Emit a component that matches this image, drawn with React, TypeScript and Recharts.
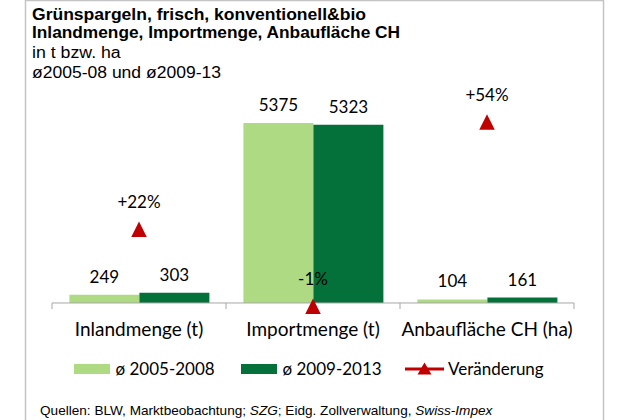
import React from 'react'
import { ComposedChart, Bar, Line, XAxis, YAxis, ReferenceLine, LabelList, Legend } from 'recharts'

// values
const categories = ['Inlandmenge (t)', 'Importmenge (t)', 'Anbaufläche CH (ha)']
const avg2005to2008 = [249, 5375, 104]
const avg2009to2013 = [303, 5323, 161]
const changePct = [22, -1, 54]
const seriesNames = ['ø 2005-2008', 'ø 2009-2013', 'Veränderung']

const titleLines = [
  'Grünspargeln, frisch, konventionell&bio',
  'Inlandmenge, Importmenge, Anbaufläche CH',
  'in t bzw. ha',
  'ø2005-08 und ø2009-13',
]

const data = categories.map((name, i) => ({
  name,
  early: avg2005to2008[i],
  late: avg2009to2013[i],
  change: changePct[i],
}))

const LIGHT = '#AEDA84'
const DARK = '#04703A'
const RED = '#C00000'
const AXIS = '#A6A6A6'
const FONT = 'Lato, "Open Sans", sans-serif'
const ARIAL = '"Liberation Sans", Arial, sans-serif'

const W = 620
const H = 420
const PLOT_LEFT = 52
const PLOT_RIGHT = 574
const PLOT_TOP = 102
const PLOT_BOTTOM = 307
const X_AXIS_H = 30
const BAND = (PLOT_RIGHT - PLOT_LEFT) / categories.length
const ZERO_GAP = 4 // zero line sits a little above the plot bottom so the -1% marker fits

const CategoryTick = (props: any) => {
  const { x, y, payload, index } = props
  const base = y - ZERO_GAP
  return (
    <g>
      <line x1={x - BAND / 2} x2={x - BAND / 2} y1={base} y2={base + 6} stroke={AXIS} />
      {index === categories.length - 1 && (
        <line x1={x + BAND / 2} x2={x + BAND / 2} y1={base} y2={base + 6} stroke={AXIS} />
      )}
      <text x={x} y={base + 32.5} textAnchor="middle" fontFamily={FONT} fontSize={19} fill="#000">
        {payload.value}
      </text>
    </g>
  )
}

const Triangle = (props: any) => {
  const { cx, cy, index } = props
  if (cx == null || cy == null) return null
  const s = 15.5
  return (
    <polygon
      key={index}
      points={`${cx},${cy - s / 2} ${cx + s / 2},${cy + s / 2} ${cx - s / 2},${cy + s / 2}`}
      fill={RED}
    />
  )
}

const LEGEND_X = [73.5, 240.5, 405]

const LegendContent = (props: any) => {
  const payload = [...(props.payload || [])].sort(
    (a: any, b: any) => seriesNames.indexOf(a.value) - seriesNames.indexOf(b.value)
  )
  return (
    <div style={{ position: 'relative', width: W, height: 22, fontFamily: FONT, fontSize: 17 }}>
      {payload.map((entry: any, i: number) => {
        const left = LEGEND_X[i]
        if (entry.type === 'line') {
          return (
            <div key={i} style={{ position: 'absolute', left, top: 0, height: 22, display: 'flex', alignItems: 'center' }}>
              <svg width={40} height={22}>
                <line x1={0} x2={39} y1={11} y2={11} stroke={RED} strokeWidth={3} />
                <polygon points="19.5,4.5 26.5,16.5 12.5,16.5" fill={RED} />
              </svg>
              <span style={{ marginLeft: 3, lineHeight: '22px' }}>{entry.value}</span>
            </div>
          )
        }
        return (
          <div key={i} style={{ position: 'absolute', left, top: 0, height: 22, display: 'flex', alignItems: 'center' }}>
            <span style={{ display: 'inline-block', width: 36, height: 9.5, background: entry.color }} />
            <span style={{ marginLeft: 6, lineHeight: '22px' }}>{entry.value}</span>
          </div>
        )
      })}
    </div>
  )
}

const pctLabel = (v: any) => `${v > 0 ? '+' : ''}${v}%`

export default function App() {
  return (
    <div style={{ position: 'absolute', left: 0, top: 0, width: W, height: H, overflow: 'hidden', background: '#fff' }}>
      <ComposedChart
        width={W}
        height={H}
        data={data}
        margin={{ top: PLOT_TOP, right: W - PLOT_RIGHT, bottom: H - PLOT_BOTTOM - X_AXIS_H, left: PLOT_LEFT }}
        barCategoryGap="10%"
        barGap={0}
      >
        <XAxis
          dataKey="name"
          height={X_AXIS_H}
          axisLine={false}
          tickLine={false}
          tickSize={0}
          tickMargin={0}
          interval={0}
          tick={<CategoryTick />}
        />
        <YAxis yAxisId="left" hide domain={[-120, 6000]} />
        <YAxis yAxisId="right" orientation="right" hide domain={[-1.2, 60]} />
        <ReferenceLine yAxisId="left" y={0} stroke={AXIS} strokeWidth={1} />
        <Legend
          verticalAlign="middle"
          align="center"
          layout="horizontal"
          wrapperStyle={{ top: 358, left: 0, width: W, height: 22 }}
          content={<LegendContent />}
        />
        <Bar yAxisId="left" dataKey="early" name={seriesNames[0]} fill={LIGHT} isAnimationActive={false}>
          <LabelList dataKey="early" position="top" offset={12} fill="#000" fontFamily={FONT} fontSize={17} />
        </Bar>
        <Bar yAxisId="left" dataKey="late" name={seriesNames[1]} fill={DARK} isAnimationActive={false}>
          <LabelList dataKey="late" position="top" offset={12} fill="#000" fontFamily={FONT} fontSize={17} />
        </Bar>
        <Line
          yAxisId="right"
          dataKey="change"
          name={seriesNames[2]}
          stroke={RED}
          strokeOpacity={0}
          legendType="line"
          dot={Triangle}
          activeDot={false}
          isAnimationActive={false}
        >
          <LabelList dataKey="change" position="top" offset={21} formatter={pctLabel} fill="#000" fontFamily={FONT} fontSize={17} />
        </Line>
      </ComposedChart>

      <svg width={W} height={H} style={{ position: 'absolute', left: 0, top: 0, pointerEvents: 'none' }}>
        <rect x={25.5} y={0.5} width={578} height={H + 10} fill="none" stroke="#C4C4C4" strokeWidth={1.5} />
        <text x={32} y={20} fontFamily={ARIAL} fontWeight="bold" fontSize={16} textLength={334} lengthAdjust="spacingAndGlyphs">
          {titleLines[0]}
        </text>
        <text x={32} y={37.5} fontFamily={ARIAL} fontWeight="bold" fontSize={16} textLength={368} lengthAdjust="spacingAndGlyphs">
          {titleLines[1]}
        </text>
        <text x={32} y={57.5} fontFamily={ARIAL} fontSize={16} textLength={88.7} lengthAdjust="spacingAndGlyphs">
          {titleLines[2]}
        </text>
        <text x={32} y={78} fontFamily={ARIAL} fontSize={16} textLength={189} lengthAdjust="spacingAndGlyphs">
          {titleLines[3]}
        </text>
        <text x={40} y={415} fontFamily={ARIAL} fontSize={13.6}>
          Quellen: BLW, Marktbeobachtung; <tspan fontStyle="italic">SZG</tspan>; Eidg. Zollverwaltung,{' '}
          <tspan fontStyle="italic">Swiss-Impex</tspan>
        </text>
      </svg>
    </div>
  )
}
